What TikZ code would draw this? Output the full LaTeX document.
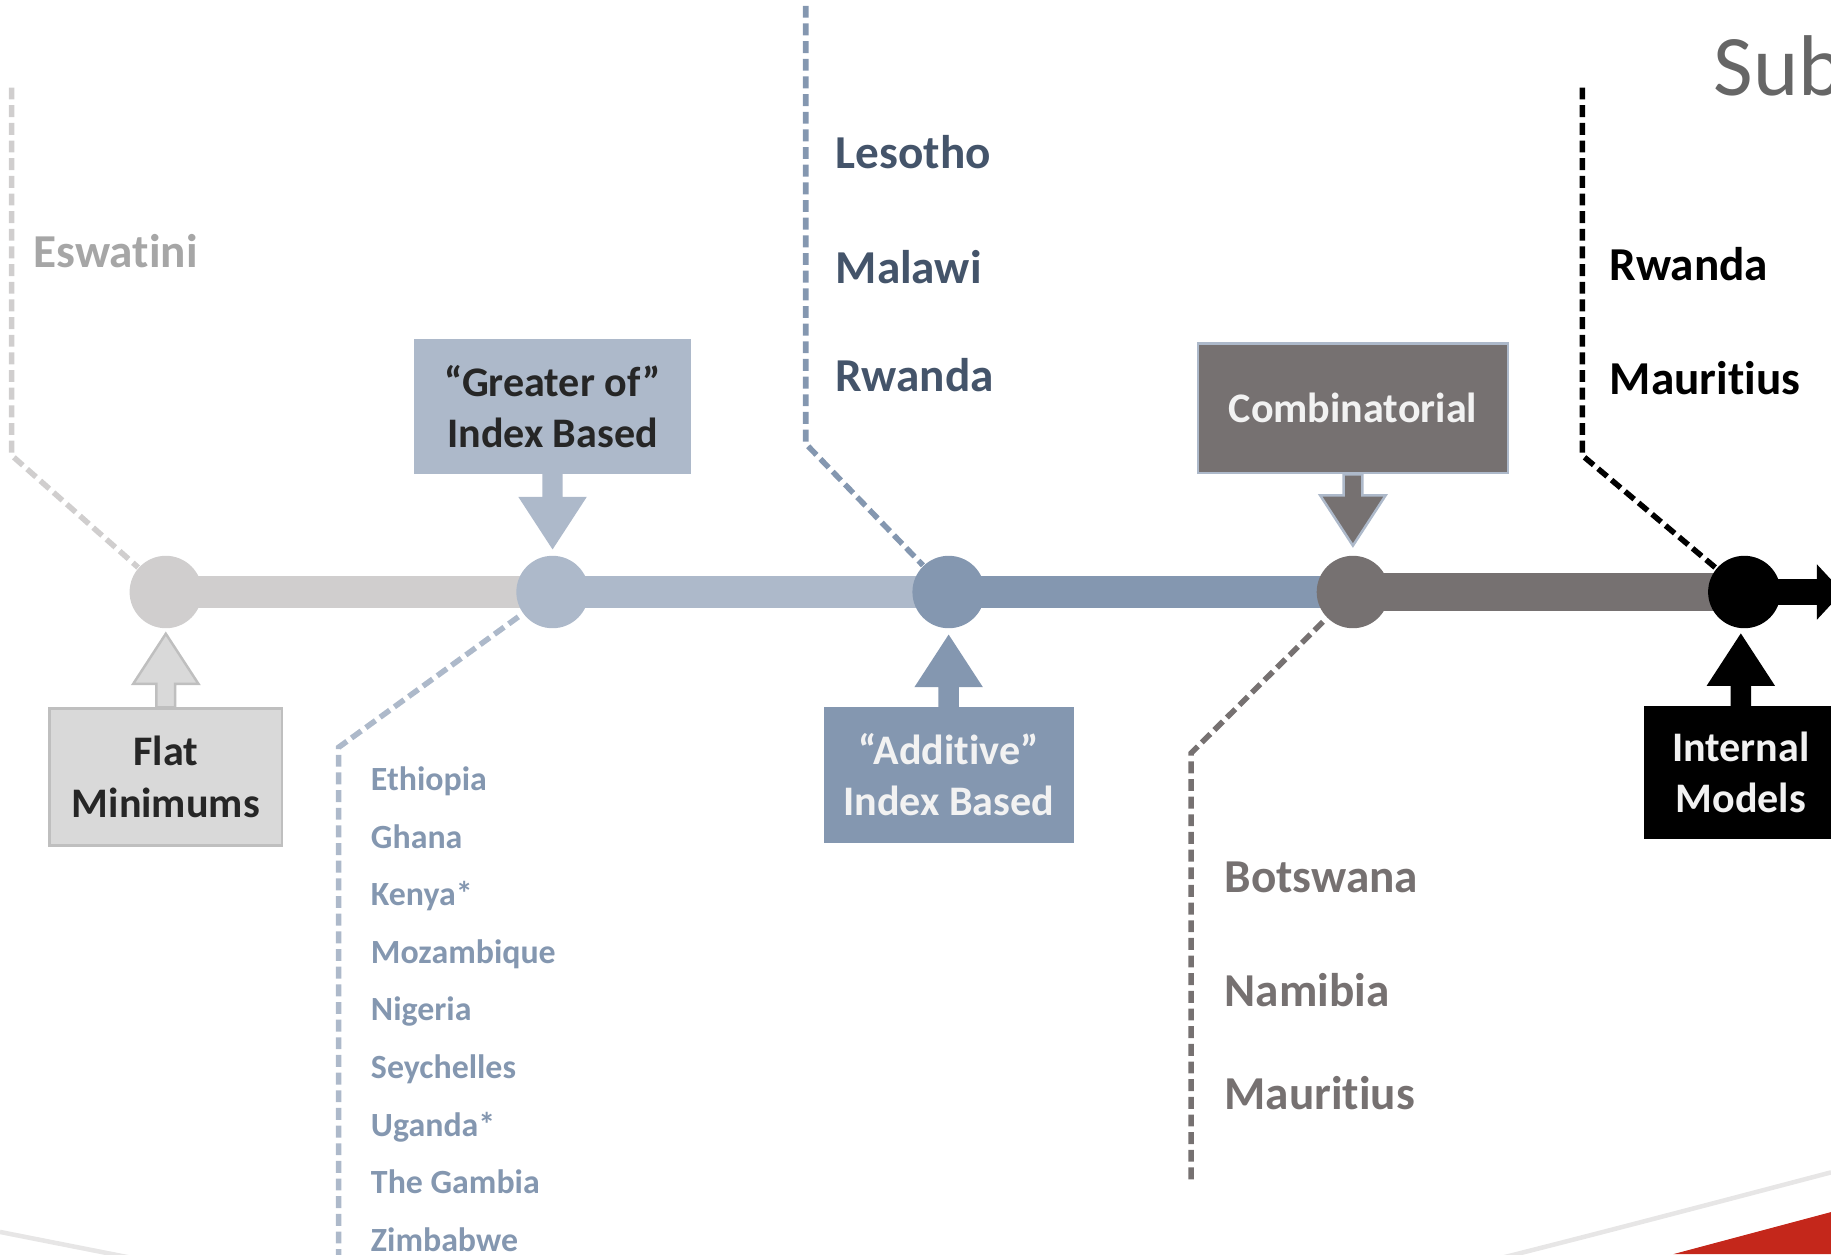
\documentclass[tikz,border=0pt]{standalone}
\usepackage{fontspec}
\setmainfont{Carlito}[Ligatures={TeX,NoCommon}]
\usetikzlibrary{positioning,calc,arrows.meta}
\pgfdeclarelayer{background}
\pgfsetlayers{background,main}

\definecolor{flatgray}{HTML}{D0CECE}
\definecolor{flatbox}{HTML}{D9D9D9}
\definecolor{flatedge}{HTML}{BFBFBF}
\definecolor{greaterblue}{HTML}{ADB9CA}
\definecolor{addblue}{HTML}{8497B0}
\definecolor{combgray}{HTML}{767171}
\definecolor{darkslate}{HTML}{44546A}
\definecolor{boxtext}{HTML}{262626}
\definecolor{lighttext}{HTML}{F2F2F2}
\definecolor{eswgray}{HTML}{A6A6A6}
\definecolor{titlegray}{HTML}{666666}
\definecolor{curvegray}{HTML}{E7E6E6}
\definecolor{slidered}{HTML}{C4271B}

% block arrow from a box to a stage
\newcommand{\fatarrow}[3]{%
  \filldraw[#1] let \p1=(#2), \p2=(#3), \p3=($(#3)!0.43cm!(#2)$) in
    (\x1-0.08cm,\y1) -- (\x1-0.08cm,\y3) -- (\x1-0.28cm,\y3) -- (\x1,\y2)
    -- (\x1+0.28cm,\y3) -- (\x1+0.08cm,\y3) -- (\x1+0.08cm,\y1) -- cycle;}

\begin{document}
\begin{tikzpicture}[x=0.01cm, y=-0.01cm,
  stage/.style={circle, minimum size=0.62cm, inner sep=0pt},
  block/.style={inner sep=2pt, align=center, font=\fontsize{10.25}{12.5}\selectfont\bfseries},
  bigname/.style={anchor=base west, inner sep=0pt, font=\fontsize{11.5}{13.8}\selectfont\bfseries},
  smallname/.style={anchor=base west, inner sep=0pt, text=addblue, font=\fontsize{8.25}{10}\selectfont\bfseries},
  track/.style={line width=0.27cm},
  leader/.style={line width=1.35pt, dash pattern=on 2.9pt off 1.4pt}]

  \useasboundingbox (0,0) rectangle (1568,1074);

  % Stages
  \node[stage, fill=flatgray] (fc) at (142,507) {};
  \node[stage, fill=greaterblue, node distance=3.31cm, right of=fc] (gc) {};
  \node[stage, fill=addblue, node distance=3.39cm, right of=gc] (ac) {};
  \node[stage, fill=combgray, node distance=3.46cm, right of=ac] (cc) {};
  \node[stage, fill=black, node distance=3.35cm, right of=cc] (ic) {};
  \coordinate (tip) at (1578,507);

  % Track
  \begin{pgfonlayer}{background}
    \draw[track, flatgray] (fc.center) -- (gc.center);
    \draw[track, greaterblue] (gc.center) -- (ac.center);
    \draw[track, addblue] (ac.center) -- (cc.center);
    \draw[track, combgray, line width=0.33cm] (cc.center) -- (ic.center);
    \draw[black, line width=0.22cm, -{Triangle[width=0.46cm,length=0.22cm]}] (ic.center) -- (tip);
  \end{pgfonlayer}

  % Boxes
  \node[block, fill=greaterblue, text=boxtext, minimum width=2.37cm, minimum height=1.15cm, above=0.69cm of gc] (gb) {“Greater of”\\Index Based};
  \node[block, fill=combgray, draw=greaterblue, line width=0.6pt, text=lighttext, minimum width=2.65cm, minimum height=1.11cm, above=0.69cm of cc] (cb) {Combinatorial};
  \node[block, fill=flatbox, draw=flatedge, line width=0.6pt, text=boxtext, minimum width=1.99cm, minimum height=1.17cm, below=0.67cm of fc] (fb) {Flat\\Minimums};
  \node[block, fill=addblue, text=lighttext, minimum width=2.14cm, minimum height=1.16cm, below=0.66cm of ac] (ab) {“Additive”\\Index Based};
  \node[block, fill=black, text=lighttext, minimum width=1.66cm, minimum height=1.14cm, below=0.65cm of ic, xshift=-0.03cm] (ib) {Internal\\Models};

  % Block arrows
  \fatarrow{fill=greaterblue, draw=greaterblue, line width=0.4pt}{gb.south}{[yshift=0.06cm]gc.north}
  \fatarrow{fill=combgray, draw=greaterblue, line width=0.6pt}{cb.south}{[yshift=0.08cm]cc.north}
  \fatarrow{fill=flatbox, draw=flatedge, line width=0.6pt}{fb.north}{[yshift=-0.04cm]fc.south}
  \fatarrow{fill=addblue, draw=addblue, line width=0.4pt}{ab.north}{[yshift=-0.06cm]ac.south}
  \fatarrow{fill=black, draw=black, line width=0.4pt}{ib.north}{[yshift=-0.05cm]ic.south}

  % Leaders
  \coordinate (eswtop) at (10,75);
  \coordinate (eswbend) at (10,390);
  \coordinate (gbend) at (290,640);
  \coordinate (gend) at (290,1080);
  \coordinate (atop) at (690,5);
  \coordinate (abend) at (690,380);
  \coordinate (cbend) at (1020,645);
  \coordinate (cend) at (1020,1010);
  \coordinate (itop) at (1355,75);
  \coordinate (ibend) at (1355,390);
  \draw[leader, flatgray] (eswtop) -- (eswbend) -- (fc);
  \draw[leader, greaterblue] (gend) -- (gbend) -- (gc);
  \draw[leader, addblue] (atop) -- (abend) -- (ac);
  \draw[leader, combgray] (cend) -- (cbend) -- (cc);
  \draw[leader, black] (itop) -- (ibend) -- (ic);

  % Countries
  \node[bigname, text=eswgray] (esw) at (28,229) {Eswatini};

  \node[bigname, text=darkslate] (les) at (715,144) {Lesotho};
  \node[bigname, text=darkslate] (mal) at ([yshift=-0.99cm]les.base west) {Malawi};
  \node[bigname, text=darkslate] (rwa) at ([yshift=-0.92cm]mal.base west) {Rwanda};

  \node[bigname, text=black] (rwb) at (1378,240) {Rwanda};
  \node[bigname, text=black] (mub) at ([yshift=-0.98cm]rwb.base west) {Mauritius};

  \node[bigname, text=combgray] (bot) at (1048,764) {Botswana};
  \node[bigname, text=combgray] (nam) at ([yshift=-0.98cm]bot.base west) {Namibia};
  \node[bigname, text=combgray] (mau) at ([yshift=-0.88cm]nam.base west) {Mauritius};

  \node[smallname] (eth) at (317,677) {Ethiopia};
  \node[smallname] (gha) at ([yshift=-0.493cm]eth.base west) {Ghana};
  \node[smallname] (ken) at ([yshift=-0.493cm]gha.base west) {Kenya*};
  \node[smallname] (moz) at ([yshift=-0.493cm]ken.base west) {Mozambique};
  \node[smallname] (nig) at ([yshift=-0.493cm]moz.base west) {Nigeria};
  \node[smallname] (sey) at ([yshift=-0.493cm]nig.base west) {Seychelles};
  \node[smallname] (uga) at ([yshift=-0.493cm]sey.base west) {Uganda*};
  \node[smallname] (gam) at ([yshift=-0.493cm]uga.base west) {The Gambia};
  \node[smallname] (zim) at ([yshift=-0.493cm]gam.base west) {Zimbabwe};

  % Title and slide decoration
  \node[anchor=base west, inner sep=0pt, text=titlegray, font=\fontsize{21}{25}\selectfont] (title) at (1467,82) {Sub};
  \draw[curvegray, line width=1.1pt] (0,1055) .. controls (784,1210) .. (1568,1004);
  \fill[slidered] (1433,1074) -- (1568,1038) -- (1568,1074) -- cycle;

\end{tikzpicture}
\end{document}
